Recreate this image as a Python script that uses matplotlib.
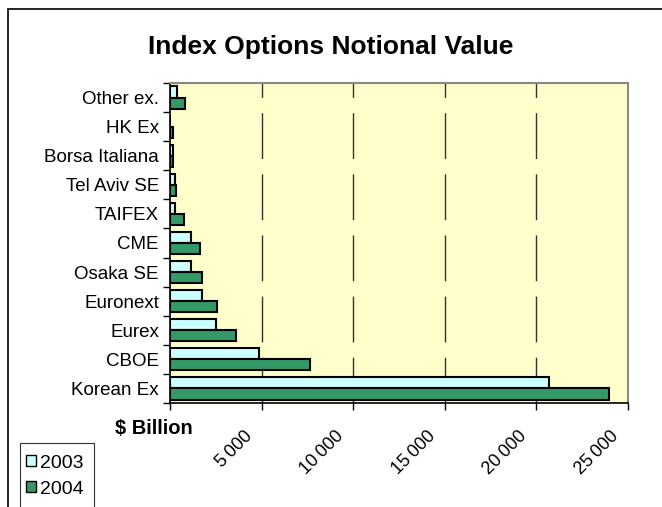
import numpy as np
import matplotlib.pyplot as plt
import matplotlib.transforms as mtransforms
from matplotlib.patches import Rectangle

plt.rcParams['font.family'] = ['Liberation Sans', 'DejaVu Sans']

# categories listed bottom to top
exchanges = ["Korean Ex", "CBOE", "Eurex", "Euronext", "Osaka SE", "CME",
             "TAIFEX", "Tel Aviv SE", "Borsa Italiana", "HK Ex", "Other ex."]
v2003 = [20700, 4870, 2520, 1750, 1160, 1160, 270, 260, 150, 0, 400]
v2004 = [23950, 7640, 3620, 2550, 1760, 1650, 760, 350, 160, 170, 840]
xticks = [5000, 10000, 15000, 20000, 25000]
xlabels = ["5\u2009000", "10\u2009000", "15\u2009000", "20\u2009000", "25\u2009000"]

fig = plt.figure(figsize=(6.62, 5.07), dpi=100)
ax = fig.add_axes([170 / 662, 1 - 403 / 507, 458 / 662, 320 / 507])
ax.set_facecolor('#FFFFCC')

y = np.arange(len(exchanges))
h = 0.38
ax.barh(y + h / 2, v2003, height=h, color='#CCFFFF', edgecolor='black',
        linewidth=1.5, label='2003', zorder=3)
ax.barh(y - h / 2, v2004, height=h, color='#339966', edgecolor='black',
        linewidth=1.5, label='2004', zorder=3)

ax.set_xlim(0, 25000)
ax.set_ylim(-0.5, len(exchanges) - 0.5)

# dashed vertical gridlines
for xv in xticks[:-1]:
    ax.axvline(xv, color='#333333', lw=1, dashes=(33, 11), zorder=1)

# y axis: ticks at category boundaries, labels centred
ax.set_yticks(np.arange(-0.5, len(exchanges), 1))
ax.set_yticklabels([])
ax.set_yticks(y, minor=True)
ax.set_yticklabels(exchanges, minor=True, fontsize=13.5)
ax.tick_params(axis='y', which='major', length=5, direction='out', width=1)
ax.tick_params(axis='y', which='minor', length=0, pad=8)

ax.set_xticks([0] + xticks)
ax.set_xticklabels([""] + xlabels, rotation=45, ha='right', va='top',
                   rotation_mode='anchor', fontsize=13)
ax.tick_params(axis='x', length=5, direction='out', width=1, pad=13)
shift = mtransforms.ScaledTranslation(-18 / 100, 0, fig.dpi_scale_trans)
for lab in ax.get_xticklabels():
    lab.set_transform(lab.get_transform() + shift)

for side in ['top', 'right']:
    ax.spines[side].set_color('#888888')
    ax.spines[side].set_linewidth(1.5)
for side in ['left', 'bottom']:
    ax.spines[side].set_color('black')
    ax.spines[side].set_linewidth(1.2)

fig.text(331 / 662, 1 - 47 / 507, "Index Options Notional Value",
         ha='center', va='center', fontsize=19, fontweight='bold')
fig.text(154 / 662, 1 - 429 / 507, "$ Billion", ha='center', va='center',
         fontsize=14.5, fontweight='bold')

# outer chart frame (cropped at right and bottom)
fig.patches.append(Rectangle((8 / 662, -0.1), 1.1, 1.1 - 9 / 507,
                             transform=fig.transFigure, fill=False,
                             edgecolor='black', lw=1.2))

# legend box runs off the bottom edge, drawn by hand
fig.patches.append(Rectangle((20 / 662, -0.05), 74 / 662, 0.05 + 64 / 507,
                             transform=fig.transFigure, fill=False,
                             edgecolor='#333333', lw=0.8))
leg = fig.legend(loc='upper left', bbox_to_anchor=(20 / 662, 1 - 449 / 507),
                 fontsize=14, frameon=False,
                 handlelength=0.5, handleheight=0.5, handletextpad=0.25,
                 borderpad=0.3, labelspacing=0.45, borderaxespad=0)
for p in leg.get_patches():
    p.set_linewidth(1.0)

fig.savefig("out.png", dpi=100)
